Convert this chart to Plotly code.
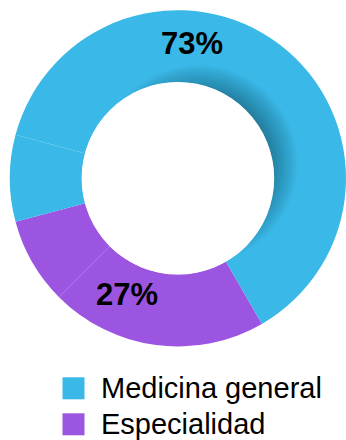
import math
import plotly.graph_objects as go

W, H = 346, 440

# ---- data ----
categories = ["Medicina general", "Especialidad"]
category_colors = ["#3AB9E8", "#9B55E1"]
category_text = ["73%", "27%"]

slice_labels = ["Especialidad 1", "Especialidad 2", "Medicina general 2", "Medicina general 1"]
slice_groups = ["Especialidad", "Especialidad", "Medicina general", "Medicina general"]
slice_values = [5, 2, 2, 15]

# ---- layout helpers (pixels -> paper) ----
def px(x):
    return x / W

def py(y):
    return 1 - y / H

# pie geometry in pixels
dom_x = (9.8, 346.0)
dom_y = (9.8, 346.8)
cx = (dom_x[0] + dom_x[1]) / 2
cy = (dom_y[0] + dom_y[1]) / 2
r_out = min(dom_x[1] - dom_x[0], dom_y[1] - dom_y[0]) / 2
hole = 0.571
r_in = r_out * hole

color_of = dict(zip(categories, category_colors))

fig = go.Figure()
fig.add_trace(go.Pie(
    labels=slice_labels,
    values=slice_values,
    marker=dict(colors=[color_of[g] for g in slice_groups], line=dict(width=0)),
    hole=hole,
    sort=False,
    direction="clockwise",
    rotation=150,
    textinfo="none",
    hoverinfo="skip",
    showlegend=False,
    domain=dict(x=[px(dom_x[0]), px(dom_x[1])], y=[py(dom_y[1]), py(dom_y[0])]),
))

shapes = []
# inner shadow (stacked translucent circles, offset to upper right)
off_d, off_ang = 25, math.radians(55)
scx = cx + off_d * math.sin(off_ang)
scy = cy - off_d * math.cos(off_ang)
n = 15
for i in range(n):
    rr = r_in - 25 + i * 2.0
    shapes.append(dict(type="circle", xref="paper", yref="paper", layer="above",
                       x0=px(scx - rr), x1=px(scx + rr), y0=py(scy + rr), y1=py(scy - rr),
                       fillcolor="rgba(0,0,0,0.022)", line=dict(width=0)))
# redraw hole
shapes.append(dict(type="circle", xref="paper", yref="paper", layer="above",
                   x0=px(cx - r_in - 0.3), x1=px(cx + r_in + 0.3),
                   y0=py(cy + r_in + 0.3), y1=py(cy - r_in - 0.3),
                   fillcolor="white", line=dict(width=0)))

annotations = []
# percentage labels
label_pos = [(5.8, 136.5), (203.9, 126.3)]
for txt, (ang, rho) in zip(category_text, label_pos):
    a = math.radians(ang)
    x = cx + rho * math.sin(a)
    y = cy - rho * math.cos(a)
    annotations.append(dict(x=px(x), y=py(y + 1), xref="paper", yref="paper",
                            text=f"<b>{txt}</b>", showarrow=False,
                            xanchor="center", yanchor="middle",
                            font=dict(family="Liberation Sans, Arial", size=31, color="black")))

# legend
leg_x0, leg_y0, sq, step = 62.5, 377.3, 22, 36
for i, (cat, col) in enumerate(zip(categories, category_colors)):
    y0 = leg_y0 + i * step
    shapes.append(dict(type="rect", xref="paper", yref="paper",
                       x0=px(leg_x0), x1=px(leg_x0 + sq), y0=py(y0 + sq), y1=py(y0),
                       fillcolor=col, line=dict(width=0)))
    annotations.append(dict(x=px(99), y=py(y0 + sq / 2), xref="paper", yref="paper",
                            text=cat, showarrow=False, xanchor="left", yanchor="middle",
                            font=dict(family="Liberation Sans, Arial", size=29, color="black")))

fig.update_layout(
    width=W, height=H,
    margin=dict(l=0, r=0, t=0, b=0),
    paper_bgcolor="white", plot_bgcolor="white",
    showlegend=False,
    shapes=shapes,
    annotations=annotations,
)

fig.write_html("out.html",
               config={"displayModeBar": False},
               post_script="document.body.style.margin='0';document.body.style.overflow='hidden';")
